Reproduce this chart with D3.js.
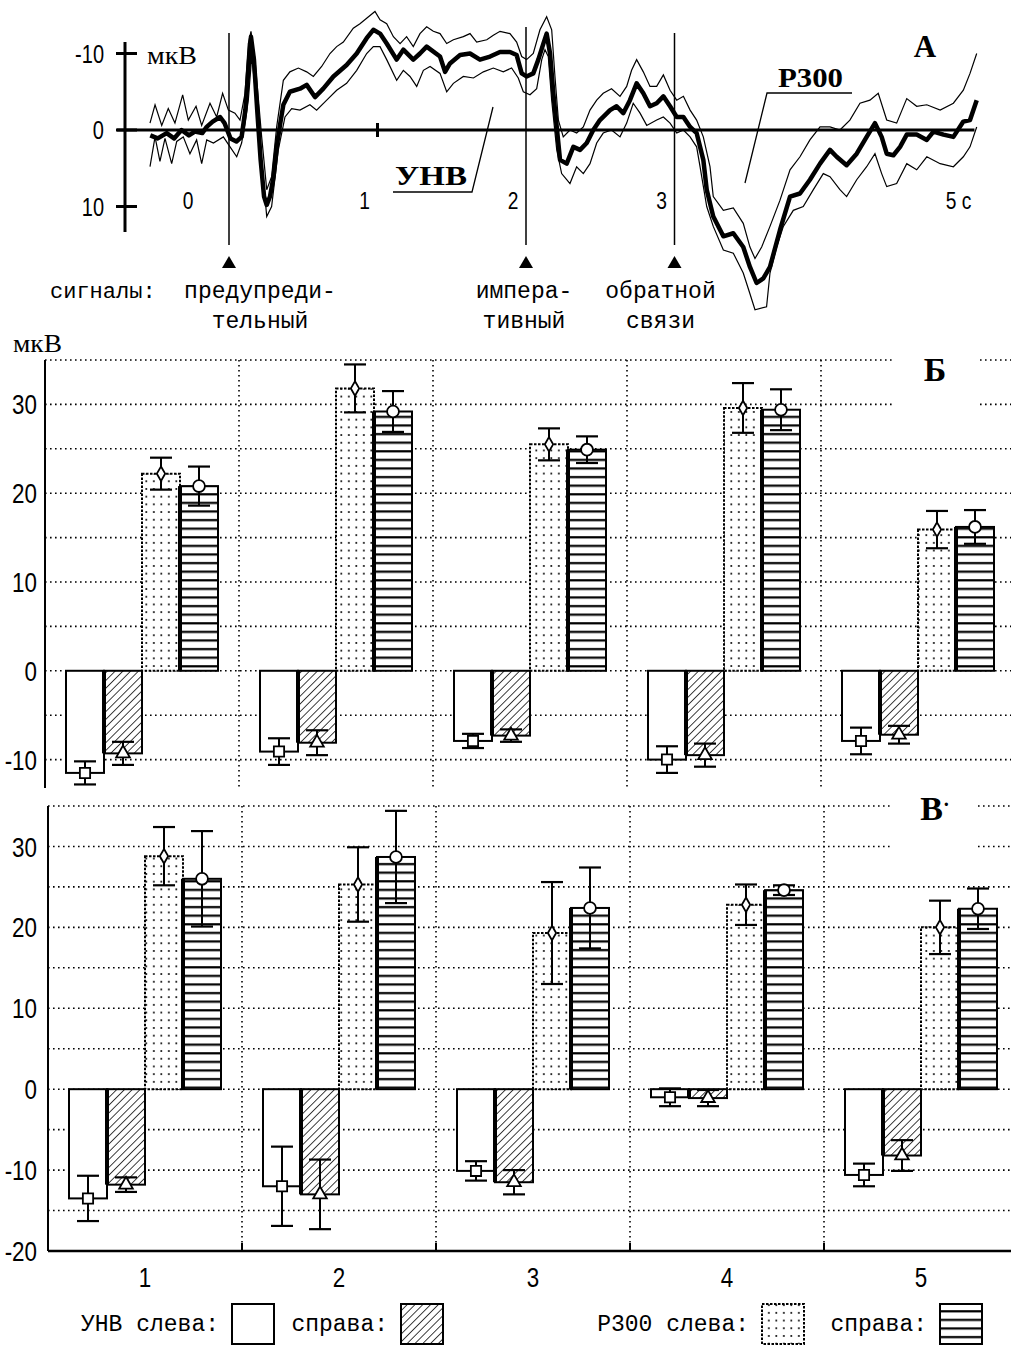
<!DOCTYPE html>
<html>
<head>
<meta charset="utf-8">
<script src="https://cdnjs.cloudflare.com/ajax/libs/d3/7.8.5/d3.min.js"></script>
<style>
body { margin: 0; background: #fff; }
svg { display: block; }
.mono { font-family: "Liberation Mono", "DejaVu Sans Mono", monospace; }
.serif { font-family: "Liberation Serif", "DejaVu Serif", serif; }
.narrow { font-family: "Liberation Sans", Arial, sans-serif; }
</style>
</head>
<body>
<svg id="chart" width="1011" height="1346"></svg>
<script>
// ---- panel А: averaged potentials, [time s, µV] (negative up) ----
const meanTrace = [[-0.53,0.7],[-0.48,1.1],[-0.42,0.4],[-0.37,1.1],[-0.32,0.0],[-0.27,0.7],[-0.23,0.2],[-0.18,0.4],[-0.15,-0.4],[-0.11,-1.1],[-0.06,-1.7],[-0.03,-0.9],[0.01,1.1],[0.05,1.5],[0.085,0.9],[0.11,-2.6],[0.13,-7.8],[0.148,-12.2],[0.168,-9.2],[0.19,-2.6],[0.213,3.9],[0.236,8.7],[0.254,9.8],[0.276,8.7],[0.30,6.1],[0.325,1.7],[0.343,-0.6],[0.366,-3.3],[0.41,-5.0],[0.478,-5.4],[0.523,-5.9],[0.579,-4.3],[0.635,-5.4],[0.703,-7.0],[0.792,-8.5],[0.86,-10.0],[0.927,-12.0],[0.972,-13.1],[1.017,-12.6],[1.062,-11.3],[1.129,-9.2],[1.174,-10.5],[1.241,-9.2],[1.286,-10.0],[1.331,-10.9],[1.421,-9.6],[1.455,-7.6],[1.488,-8.7],[1.556,-9.8],[1.623,-10.0],[1.69,-9.2],[1.758,-9.6],[1.825,-10.2],[1.892,-10.2],[1.937,-9.8],[1.971,-7.4],[2.004,-7.0],[2.049,-7.4],[2.083,-9.2],[2.117,-11.3],[2.139,-12.6],[2.162,-10.0],[2.184,-4.8],[2.207,-0.4],[2.229,3.9],[2.274,4.4],[2.319,2.2],[2.364,2.6],[2.409,1.7],[2.453,0.0],[2.498,-1.3],[2.566,-2.6],[2.61,-3.1],[2.655,-2.2],[2.70,-3.9],[2.745,-6.1],[2.79,-4.8],[2.835,-3.1],[2.88,-3.5],[2.925,-4.4],[2.97,-3.1],[3.015,-1.7],[3.06,-1.7],[3.105,-0.4],[3.149,0.4],[3.194,3.9],[3.217,7.8],[3.261,11.3],[3.329,13.9],[3.396,13.5],[3.463,15.3],[3.508,17.9],[3.553,20.0],[3.598,19.4],[3.643,17.9],[3.71,13.1],[3.778,8.7],[3.845,8.3],[3.912,6.5],[3.98,4.4],[4.047,2.6],[4.092,3.5],[4.159,4.6],[4.227,3.1],[4.294,0.9],[4.35,-0.9],[4.395,0.9],[4.429,3.1],[4.474,3.3],[4.519,2.2],[4.564,0.6],[4.631,0.6],[4.699,1.3],[4.744,0.2],[4.811,0.6],[4.878,0.9],[4.945,-1.1],[4.99,-1.3],[5.035,-3.9]];

const upperTrace = [[-0.532,-0.9],[-0.498,-3.3],[-0.453,-0.6],[-0.409,-2.8],[-0.364,-0.9],[-0.312,-4.6],[-0.274,-1.3],[-0.222,-3.1],[-0.184,-0.6],[-0.128,-3.5],[-0.083,-1.7],[-0.043,-4.8],[-0.004,-2.6],[0.04,-2.2],[0.074,-1.3],[0.108,-4.8],[0.13,-11.3],[0.148,-12.9],[0.175,-9.2],[0.22,0.9],[0.254,7.8],[0.287,6.1],[0.321,-0.4],[0.366,-6.5],[0.41,-7.6],[0.467,-8.1],[0.523,-7.6],[0.568,-7.0],[0.624,-8.3],[0.68,-10.0],[0.725,-10.9],[0.77,-11.5],[0.837,-13.3],[0.882,-13.9],[0.927,-14.6],[0.983,-15.5],[1.017,-14.4],[1.062,-13.9],[1.107,-12.2],[1.152,-11.3],[1.196,-12.2],[1.241,-10.9],[1.286,-12.6],[1.331,-13.5],[1.376,-12.9],[1.421,-12.6],[1.466,-11.3],[1.511,-11.8],[1.578,-12.2],[1.623,-12.6],[1.668,-11.5],[1.736,-11.8],[1.78,-12.4],[1.825,-12.9],[1.892,-12.6],[1.937,-11.5],[1.971,-9.6],[2.004,-9.2],[2.049,-10.0],[2.094,-13.1],[2.139,-14.8],[2.173,-13.1],[2.195,-7.0],[2.218,-1.3],[2.251,0.9],[2.296,0.0],[2.341,0.4],[2.386,-0.4],[2.431,-2.6],[2.476,-3.9],[2.52,-4.8],[2.576,-5.4],[2.633,-4.4],[2.678,-5.7],[2.711,-7.8],[2.745,-9.2],[2.79,-7.6],[2.835,-5.7],[2.88,-5.7],[2.925,-7.2],[2.97,-5.2],[3.015,-3.9],[3.06,-4.4],[3.105,-2.6],[3.149,-1.3],[3.194,0.9],[3.239,4.8],[3.261,8.7],[3.329,10.5],[3.396,10.2],[3.463,12.2],[3.508,15.3],[3.542,16.8],[3.587,15.3],[3.643,12.6],[3.71,9.2],[3.778,5.2],[3.845,3.5],[3.912,1.3],[3.98,-0.4],[4.047,-0.4],[4.114,0.0],[4.181,-1.3],[4.249,-3.5],[4.316,-3.9],[4.372,-4.8],[4.429,-1.3],[4.496,-0.9],[4.564,-4.1],[4.631,-3.1],[4.699,-3.3],[4.789,-2.6],[4.878,-3.5],[4.945,-5.2],[4.99,-7.4],[5.035,-10.0]];

const lowerTrace = [[-0.532,4.8],[-0.498,0.9],[-0.465,4.1],[-0.431,1.1],[-0.386,4.4],[-0.352,1.5],[-0.308,0.9],[-0.263,3.1],[-0.218,1.3],[-0.184,4.4],[-0.15,1.3],[-0.105,1.7],[-0.038,0.9],[0.007,2.2],[0.052,3.5],[0.085,1.7],[0.108,-0.9],[0.13,-3.9],[0.153,-9.6],[0.186,-3.5],[0.22,3.9],[0.254,11.3],[0.287,10.0],[0.332,2.6],[0.377,-1.7],[0.422,-2.8],[0.478,-2.6],[0.545,-3.3],[0.59,-2.6],[0.658,-3.9],[0.725,-5.2],[0.792,-6.1],[0.86,-7.8],[0.927,-10.0],[0.972,-10.9],[1.017,-10.9],[1.062,-9.2],[1.129,-6.5],[1.174,-7.8],[1.219,-7.0],[1.264,-5.7],[1.309,-7.8],[1.354,-8.3],[1.421,-7.4],[1.466,-5.0],[1.511,-6.1],[1.578,-7.0],[1.646,-6.8],[1.713,-7.6],[1.78,-8.1],[1.847,-7.6],[1.903,-8.1],[1.948,-6.8],[1.982,-5.0],[2.027,-4.6],[2.072,-5.4],[2.106,-9.2],[2.128,-10.5],[2.15,-9.6],[2.173,-3.9],[2.207,2.6],[2.24,5.7],[2.274,6.5],[2.296,7.0],[2.341,4.8],[2.386,5.7],[2.431,4.4],[2.476,1.7],[2.52,0.4],[2.576,0.0],[2.633,0.9],[2.678,-0.9],[2.722,-3.5],[2.768,-2.2],[2.813,-0.6],[2.88,-1.3],[2.925,-1.7],[2.97,-0.9],[3.015,0.4],[3.06,0.0],[3.105,0.9],[3.149,2.2],[3.172,4.8],[3.217,10.0],[3.261,12.6],[3.329,15.7],[3.396,16.1],[3.463,18.7],[3.508,21.4],[3.542,23.5],[3.62,23.1],[3.643,18.7],[3.688,15.3],[3.733,12.6],[3.8,10.5],[3.867,10.0],[3.935,7.8],[4.002,5.7],[4.047,6.1],[4.114,7.8],[4.159,8.7],[4.227,6.5],[4.294,4.8],[4.35,3.1],[4.395,5.7],[4.429,7.4],[4.496,7.0],[4.564,4.4],[4.631,5.2],[4.699,3.5],[4.789,4.4],[4.878,4.8],[4.945,3.5],[4.99,2.2],[5.035,-0.4]];

const voltTicks = [-10, 0, 10];
const timeTicks = [0, 1, 2, 3, 5];
const timeTickLabels = ["0", "1", "2", "3", "5 с"];
const signalTimes = [0, 2, 3];
const signalLabels = [["предупреди-", "тельный"], ["импера-", "тивный"], ["обратной", "связи"]];

// ---- panels Б and В: bar values (µV) and errors ----
const categories = ["1", "2", "3", "4", "5"];
const seriesKeys = ["unvLeft", "unvRight", "p300Left", "p300Right"];

const unvLeftB = [-11.5, -9.1, -7.9, -10.0, -7.9];
const unvLeftBErr = [1.3, 1.5, 0.8, 1.5, 1.5];
const unvRightB = [-9.3, -8.1, -7.3, -9.5, -7.2];
const unvRightBErr = [1.3, 1.4, 0.7, 1.3, 1.0];
const p300LeftB = [22.2, 31.8, 25.5, 29.6, 15.9];
const p300LeftBErr = [1.8, 2.7, 1.8, 2.8, 2.1];
const p300RightB = [20.8, 29.2, 24.9, 29.4, 16.2];
const p300RightBErr = [2.2, 2.3, 1.5, 2.3, 1.9];

const unvLeftC = [-13.5, -12.0, -10.1, -1.0, -10.6];
const unvLeftCErr = [2.8, 4.9, 1.2, 1.1, 1.4];
const unvRightC = [-11.8, -13.0, -11.5, -1.1, -8.2];
const unvRightCErr = [0.9, 4.3, 1.5, 1.0, 1.9];
const p300LeftC = [28.8, 25.3, 19.3, 22.8, 20.0];
const p300LeftCErr = [3.6, 4.6, 6.3, 2.5, 3.3];
const p300RightC = [26.0, 28.7, 22.4, 24.6, 22.3];
const p300RightCErr = [5.9, 5.7, 5.0, 0.6, 2.5];

const ticksB = [30, 20, 10, 0, -10];
const ticksC = [30, 20, 10, 0, -10, -20];
const legendLabels = ["УНВ слева:", "справа:", "Р300 слева:", "справа:"];

const svg = d3.select("#chart");

// condensed numerals: regular sans squeezed horizontally
function narrowText(g, x, y, txt, size, anchor) {
  return g.append("text").attr("class", "narrow")
    .attr("transform", `translate(${x},${y}) scale(0.8,1)`)
    .attr("dy", "0.36em").attr("text-anchor", anchor).attr("font-size", size).text(txt);
}

// patterns
const defs = svg.append("defs");
const pDiag = defs.append("pattern").attr("id", "hatchDiag").attr("patternUnits", "userSpaceOnUse")
  .attr("width", 5.5).attr("height", 5.5).attr("patternTransform", "rotate(45)");
pDiag.append("rect").attr("width", 5.5).attr("height", 5.5).attr("fill", "#fff");
pDiag.append("line").attr("x1", 0).attr("y1", 0).attr("x2", 0).attr("y2", 5.5).attr("stroke", "#000").attr("stroke-width", 1.5);

const pDots = defs.append("pattern").attr("id", "dots").attr("patternUnits", "userSpaceOnUse")
  .attr("width", 7.5).attr("height", 7.7);
pDots.append("rect").attr("width", 7.5).attr("height", 7.7).attr("fill", "#fff");
pDots.append("rect").attr("x", 3).attr("y", 3).attr("width", 1.7).attr("height", 1.7).attr("fill", "#000");

const pHoriz = defs.append("pattern").attr("id", "hlines").attr("patternUnits", "userSpaceOnUse")
  .attr("width", 10).attr("height", 8.6);
pHoriz.append("rect").attr("width", 10).attr("height", 8.6).attr("fill", "#fff");
pHoriz.append("rect").attr("x", 0).attr("y", 3).attr("width", 10).attr("height", 2.2).attr("fill", "#000");

const fills = { unvLeft: "#fff", unvRight: "url(#hatchDiag)", p300Left: "url(#dots)", p300Right: "url(#hlines)" };
const markers = { unvLeft: d3.symbolSquare, unvRight: d3.symbolTriangle, p300Left: d3.symbolDiamond, p300Right: d3.symbolCircle };
const markerSize = { unvLeft: 105, unvRight: 80, p300Left: 60, p300Right: 110 };

// ================= panel А =================
const xA = d3.scaleLinear().domain([0, 5]).range([229, 971.5]);
const yA = d3.scaleLinear().domain([-10, 10]).range([53.5, 206.5]);
const gA = svg.append("g");

// signal markers
signalTimes.forEach((t, i) => {
  const x = xA(t);
  gA.append("line").attr("x1", x).attr("x2", x).attr("y1", i === 1 ? 27 : 33).attr("y2", 245)
    .attr("stroke", "#000").attr("stroke-width", 1.5);
  gA.append("path").attr("d", `M${x - 7},${268} L${x + 7},${268} L${x},${256} Z`).attr("fill", "#000");
  const dx = [31, -2, -14][i];
  signalLabels[i].forEach((s, j) => {
    gA.append("text").attr("class", "mono").attr("x", x + dx).attr("y", 298 + j * 30)
      .attr("text-anchor", "middle").attr("font-size", 23).text(s);
  });
});
gA.append("text").attr("class", "mono").attr("x", 50).attr("y", 298).attr("font-size", 22).text("сигналы:");

// axes
gA.append("line").attr("x1", 125).attr("x2", 125).attr("y1", 42).attr("y2", 232).attr("stroke", "#000").attr("stroke-width", 3);
gA.append("line").attr("x1", 117).attr("x2", xA(5.02)).attr("y1", yA(0)).attr("y2", yA(0)).attr("stroke", "#000").attr("stroke-width", 3);
voltTicks.forEach(v => {
  gA.append("line").attr("x1", 116).attr("x2", 137).attr("y1", yA(v)).attr("y2", yA(v)).attr("stroke", "#000").attr("stroke-width", 3);
  narrowText(gA, 104, yA(v), v, 25, "end");
});
gA.append("line").attr("x1", xA(1)).attr("x2", xA(1)).attr("y1", yA(0) - 7).attr("y2", yA(0) + 7).attr("stroke", "#000").attr("stroke-width", 3);
timeTicks.forEach((t, i) => {
  narrowText(gA, xA(t) + (t === 0 ? -41 : -13), 200, timeTickLabels[i], 24, "middle");
});
gA.append("text").attr("class", "serif").attr("x", 147).attr("y", 64).attr("font-size", 25)
  .attr("textLength", 50).attr("lengthAdjust", "spacingAndGlyphs").text("мкВ");

// traces
const lineA = d3.line().x(d => xA(d[0])).y(d => yA(d[1]));
[upperTrace, lowerTrace].forEach(tr => {
  gA.append("path").attr("d", lineA(tr)).attr("fill", "none").attr("stroke", "#000").attr("stroke-width", 1.2);
});
gA.append("path").attr("d", lineA(meanTrace)).attr("fill", "none").attr("stroke", "#000")
  .attr("stroke-width", 4.5).attr("stroke-linejoin", "round");

// component labels
gA.append("text").attr("class", "serif").attr("x", 395).attr("y", 185).attr("font-size", 27).attr("font-weight", "bold")
  .attr("textLength", 72).attr("lengthAdjust", "spacingAndGlyphs").text("УНВ");
gA.append("polyline").attr("points", "393,192 472,192 493,107").attr("fill", "none").attr("stroke", "#000").attr("stroke-width", 1.3);
gA.append("text").attr("class", "serif").attr("x", 778).attr("y", 87).attr("font-size", 27).attr("font-weight", "bold")
  .attr("textLength", 65).attr("lengthAdjust", "spacingAndGlyphs").text("Р300");
gA.append("polyline").attr("points", "852,93 767,93 745,183").attr("fill", "none").attr("stroke", "#000").attr("stroke-width", 1.3);
gA.append("text").attr("class", "serif").attr("x", 925).attr("y", 57).attr("font-size", 31).attr("font-weight", "bold")
  .attr("text-anchor", "middle").text("А");

// ================= bar panels =================
function drawBarPanel(cfg) {
  const g = svg.append("g");
  const x0 = d3.scaleBand().domain(categories).range(cfg.xRange);
  const x1 = d3.scaleBand().domain(seriesKeys).range([21, x0.bandwidth() - 21]);
  const y = d3.scaleLinear().domain(cfg.yDomain).range(cfg.yRange);
  const dotted = { stroke: "#000", "stroke-width": 1.6, "stroke-dasharray": "1.6,3.4" };

  // horizontal grid
  const gridVals = d3.range(cfg.gridFrom, 36, 5);
  g.selectAll(".hg").data(gridVals).join("line")
    .attr("x1", cfg.xRange[0]).attr("x2", 1011).attr("y1", d => y(d)).attr("y2", d => y(d))
    .attr("stroke", dotted.stroke).attr("stroke-width", dotted["stroke-width"]).attr("stroke-dasharray", dotted["stroke-dasharray"]);
  // vertical grid between categories
  g.selectAll(".vg").data(categories.slice(1)).join("line")
    .attr("x1", d => x0(d)).attr("x2", d => x0(d)).attr("y1", y(35)).attr("y2", y(cfg.yDomain[0]))
    .attr("stroke", dotted.stroke).attr("stroke-width", dotted["stroke-width"]).attr("stroke-dasharray", dotted["stroke-dasharray"]);

  // panel letter on white patch
  g.append("rect").attr("x", 892).attr("y", y(35) - 8).attr("width", 86).attr("height", y(30) - y(35) + 14).attr("fill", "#fff");
  const letter = g.append("text").attr("class", "serif").attr("x", 935).attr("y", cfg.letterY).attr("font-size", 34)
    .attr("font-weight", "bold").attr("text-anchor", "middle").text(cfg.letter);
  if (cfg.letterDot) letter.append("tspan").attr("font-size", 20).attr("dy", -9).text("·");

  // axes
  g.append("line").attr("x1", cfg.xRange[0]).attr("x2", cfg.xRange[0]).attr("y1", y(35)).attr("y2", y(cfg.yDomain[0]))
    .attr("stroke", "#000").attr("stroke-width", 2);
  cfg.ticks.forEach(v => narrowText(g, 37, y(v), v, 28, "end"));

  const rows = [];
  categories.forEach((c, i) => {
    seriesKeys.forEach(k => rows.push({ c, k, v: cfg.values[k][i], e: cfg.errors[k][i] }));
  });

  // bars
  g.selectAll(".bar").data(rows).join("rect")
    .attr("x", d => x0(d.c) + x1(d.k)).attr("width", x1.bandwidth())
    .attr("y", d => Math.min(y(d.v), y(0))).attr("height", d => Math.abs(y(d.v) - y(0)))
    .attr("fill", d => fills[d.k]).attr("stroke", "#000").attr("stroke-width", 2)
    .attr("stroke-dasharray", d => d.k === "p300Left" ? "2.5,1.5" : null);
  // heavy shared edge between paired bars
  g.selectAll(".edge").data(rows.filter(d => d.k === "unvRight" || d.k === "p300Right")).join("line")
    .attr("x1", d => x0(d.c) + x1(d.k)).attr("x2", d => x0(d.c) + x1(d.k))
    .attr("y1", d => y(d.v)).attr("y2", y(0)).attr("stroke", "#000").attr("stroke-width", 4);

  // error bars
  const eb = g.selectAll(".err").data(rows).join("g")
    .attr("transform", d => `translate(${x0(d.c) + x1(d.k) + x1.bandwidth() / 2},0)`);
  eb.append("line").attr("y1", d => y(d.v - d.e)).attr("y2", d => y(d.v + d.e)).attr("stroke", "#000").attr("stroke-width", 2);
  eb.append("line").attr("x1", -11).attr("x2", 11).attr("y1", d => y(d.v + d.e)).attr("y2", d => y(d.v + d.e)).attr("stroke", "#000").attr("stroke-width", 2.2);
  eb.append("line").attr("x1", -11).attr("x2", 11).attr("y1", d => y(d.v - d.e)).attr("y2", d => y(d.v - d.e)).attr("stroke", "#000").attr("stroke-width", 2.2);
  eb.append("path").attr("transform", d => `translate(0,${y(d.v)})`)
    .attr("d", d => d3.symbol(markers[d.k], markerSize[d.k])())
    .attr("fill", "#fff").attr("stroke", "#000").attr("stroke-width", 1.8);

  return { g, x0, y };
}

const panelB = drawBarPanel({
  xRange: [45, 1015], yDomain: [-13.2, 35], yRange: [788, 360], gridFrom: -10,
  ticks: ticksB, letter: "Б", letterY: 381, letterDot: false,
  values: { unvLeft: unvLeftB, unvRight: unvRightB, p300Left: p300LeftB, p300Right: p300RightB },
  errors: { unvLeft: unvLeftBErr, unvRight: unvRightBErr, p300Left: p300LeftBErr, p300Right: p300RightBErr }
});
panelB.g.append("text").attr("class", "serif").attr("x", 13).attr("y", 352).attr("font-size", 25)
  .attr("textLength", 49).attr("lengthAdjust", "spacingAndGlyphs").text("мкВ");

const panelC = drawBarPanel({
  xRange: [48, 1018], yDomain: [-20, 35], yRange: [1251, 806], gridFrom: -15,
  ticks: ticksC, letter: "В", letterY: 820, letterDot: true,
  values: { unvLeft: unvLeftC, unvRight: unvRightC, p300Left: p300LeftC, p300Right: p300RightC },
  errors: { unvLeft: unvLeftCErr, unvRight: unvRightCErr, p300Left: p300LeftCErr, p300Right: p300RightCErr }
});
// bottom axis of panel В
panelC.g.append("line").attr("x1", 48).attr("x2", 1011).attr("y1", panelC.y(-20)).attr("y2", panelC.y(-20))
  .attr("stroke", "#000").attr("stroke-width", 2.4);
panelC.g.selectAll(".bt").data(categories.slice(1)).join("line")
  .attr("x1", d => panelC.x0(d)).attr("x2", d => panelC.x0(d))
  .attr("y1", panelC.y(-20)).attr("y2", panelC.y(-20) - 8).attr("stroke", "#000").attr("stroke-width", 2);
categories.forEach(c => narrowText(panelC.g, panelC.x0(c) + panelC.x0.bandwidth() / 2, 1277, c, 28, "middle"));

// ================= legend =================
const legendBoxX = [232, 401, 762, 940];
const gL = svg.append("g");
seriesKeys.forEach((k, i) => {
  gL.append("text").attr("class", "mono").attr("x", legendBoxX[i] - 13).attr("y", 1331)
    .attr("text-anchor", "end").attr("font-size", 23).text(legendLabels[i]);
  gL.append("rect").attr("x", legendBoxX[i]).attr("y", 1304).attr("width", 42).attr("height", 40)
    .attr("fill", fills[k]).attr("stroke", "#000").attr("stroke-width", 2)
    .attr("stroke-dasharray", k === "p300Left" ? "2.5,1.5" : null);
});
</script>
</body>
</html>
